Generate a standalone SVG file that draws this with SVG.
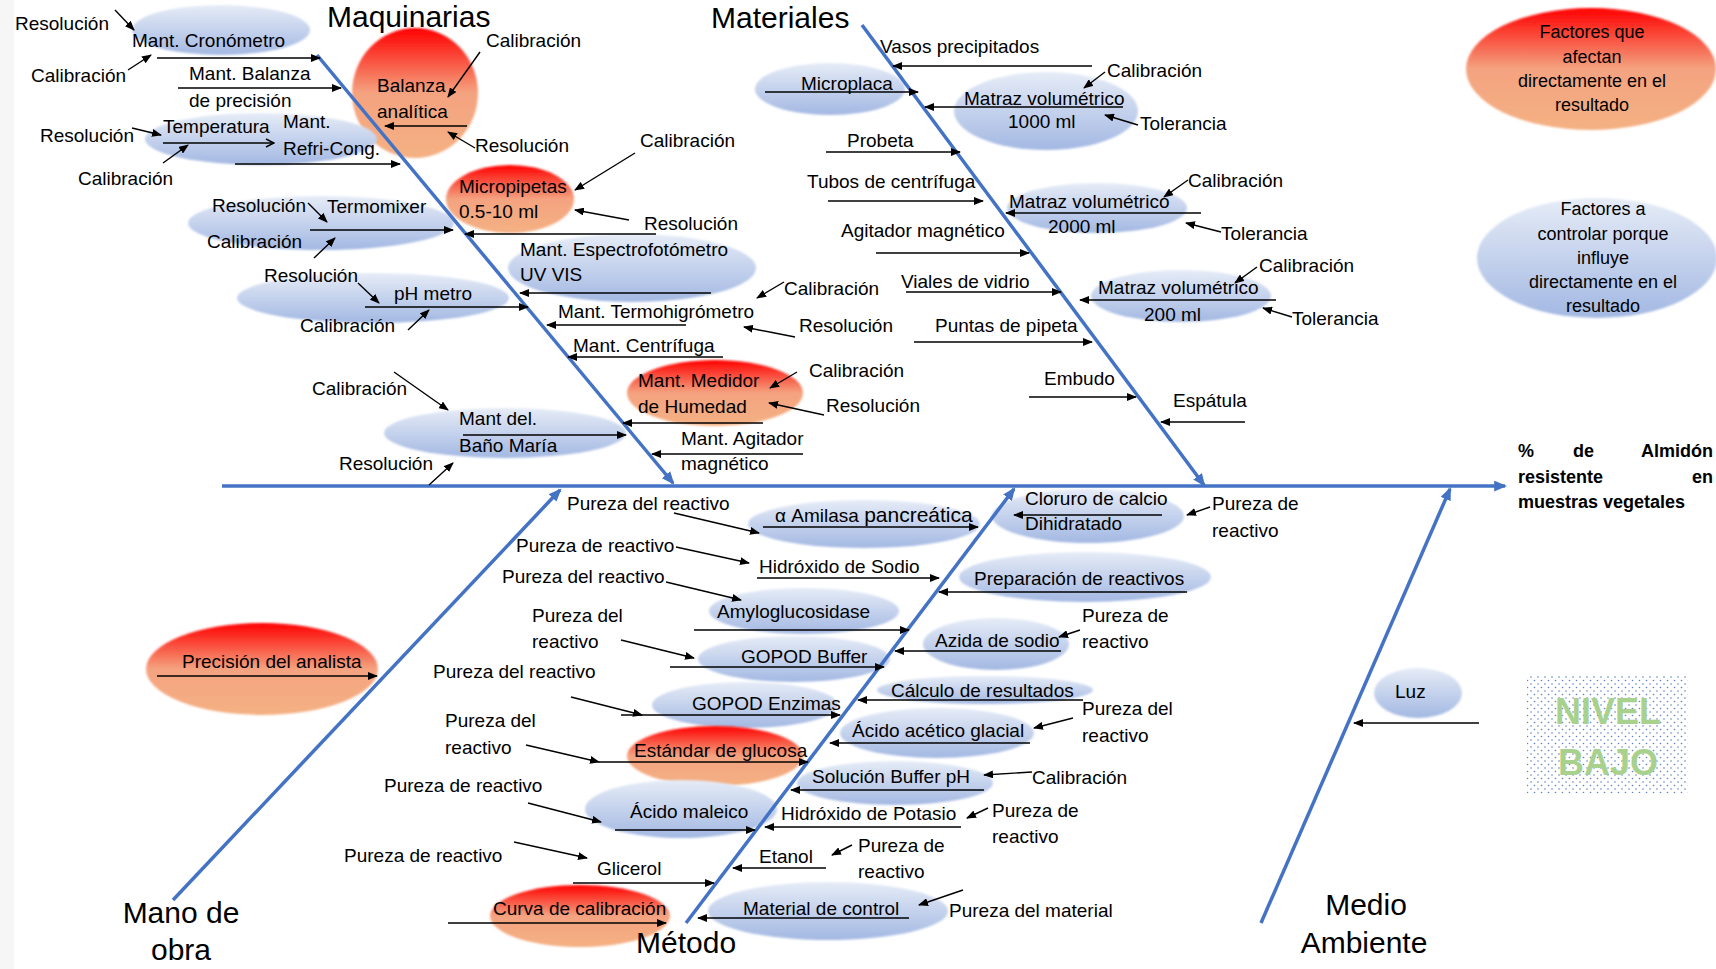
<svg xmlns="http://www.w3.org/2000/svg" width="1716" height="969" viewBox="0 0 1716 969">
<defs>
<linearGradient id="gBlue" x1="0" y1="0" x2="0" y2="1"><stop offset="0" stop-color="#E6ECF7"/><stop offset="1" stop-color="#A3B8E2"/></linearGradient>
<linearGradient id="gRed" x1="0" y1="0" x2="0" y2="1"><stop offset="0" stop-color="#FF0000"/><stop offset="0.5" stop-color="#F4A380"/><stop offset="1" stop-color="#F4B183"/></linearGradient>
<filter id="soft" x="-10%" y="-10%" width="120%" height="120%"><feGaussianBlur stdDeviation="1.3"/></filter>
<marker id="ah" viewBox="0 0 10 8" refX="9" refY="4" markerWidth="10" markerHeight="8" markerUnits="userSpaceOnUse" orient="auto"><path d="M0,0 L10,4 L0,8 z" fill="#000"/></marker>
<marker id="ao" viewBox="0 0 10 10" refX="9" refY="5" markerWidth="10" markerHeight="10" markerUnits="userSpaceOnUse" orient="auto"><path d="M1,1 L9,5 L1,9" fill="none" stroke="#000" stroke-width="1.4"/></marker>
<marker id="bh" viewBox="0 0 12 10" refX="10" refY="5" markerWidth="13" markerHeight="11" markerUnits="userSpaceOnUse" orient="auto"><path d="M0,0 L12,5 L0,10 z" fill="#4472C4"/></marker>
<pattern id="dots" width="7" height="7" patternUnits="userSpaceOnUse"><circle cx="1.5" cy="1.5" r="0.8" fill="#5B7FCB"/><circle cx="5" cy="5" r="0.8" fill="#5B7FCB"/></pattern>
</defs>
<style>
.t{font-family:"Liberation Sans",Arial,sans-serif;font-size:19px;fill:#000}
.big{font-family:"Liberation Sans",Arial,sans-serif;font-size:30px;fill:#000}
.bo{font-family:"Liberation Sans",Arial,sans-serif;font-size:18px;font-weight:bold;fill:#000}
.lg{font-family:"Liberation Sans",Arial,sans-serif;font-size:18px;fill:#000;text-anchor:middle}
.mid{text-anchor:middle}
.eb{fill:url(#gBlue);filter:url(#soft)}
.er{fill:url(#gRed);filter:url(#soft)}
.a{stroke:#000;stroke-width:1.4;fill:none;marker-end:url(#ah)}
.ao{stroke:#000;stroke-width:1.4;fill:none;marker-end:url(#ao)}
.bone{stroke:#4472C4;stroke-width:3.5;fill:none;marker-end:url(#bh)}
.nv{font-family:"Liberation Sans",Arial,sans-serif;font-size:36px;font-weight:bold;fill:#A9D18E;text-anchor:middle}
</style>
<rect x="0" y="0" width="1716" height="969" fill="#FFFFFF"/>
<rect x="0" y="0" width="14" height="969" fill="#F6F6F6"/>

<!-- ellipses / nodes -->
<g id="n-cronometro"><ellipse class="eb" cx="221" cy="30" rx="89" ry="25"/><text class="t" x="132" y="47">Mant. Cronómetro</text></g>
<g id="n-cron-res"><text class="t" x="15" y="30">Resolución</text></g>
<g id="n-cron-cal"><text class="t" x="31" y="82">Calibración</text></g>
<g id="n-balanza-prec"><text class="t" x="189" y="80">Mant. Balanza</text><text class="t" x="189" y="107">de precisión</text></g>
<g id="n-balanza-anal"><ellipse class="er" cx="415" cy="93" rx="63" ry="65"/><text class="t" x="377" y="92">Balanza</text><text class="t" x="377" y="118">analítica</text></g>
<g id="n-bal-cal"><text class="t" x="486" y="47">Calibración</text></g>
<g id="n-bal-res"><text class="t" x="475" y="152">Resolución</text></g>
<g id="n-refri"><ellipse class="eb" cx="261" cy="139" rx="116" ry="26"/><text class="t" x="163" y="133">Temperatura</text><text class="t" x="283" y="128">Mant.</text><text class="t" x="283" y="155">Refri-Cong.</text></g>
<g id="n-refri-res"><text class="t" x="40" y="142">Resolución</text></g>
<g id="n-refri-cal"><text class="t" x="78" y="185">Calibración</text></g>
<g id="n-micropip"><ellipse class="er" cx="510" cy="199" rx="64" ry="34"/><text class="t" x="459" y="193">Micropipetas</text><text class="t" x="459" y="218">0.5-10 ml</text></g>
<g id="n-micro-cal"><text class="t" x="640" y="147">Calibración</text></g>
<g id="n-micro-res"><text class="t" x="644" y="230">Resolución</text></g>
<g id="n-termomixer"><ellipse class="eb" cx="321" cy="223" rx="133" ry="27"/><text class="t" x="212" y="212">Resolución</text><text class="t" x="327" y="213">Termomixer</text><text class="t" x="207" y="248">Calibración</text></g>
<g id="n-phmetro"><ellipse class="eb" cx="373" cy="298" rx="136" ry="25"/><text class="t" x="264" y="282">Resolución</text><text class="t" x="394" y="300">pH metro</text><text class="t" x="300" y="332">Calibración</text></g>
<g id="n-espectro"><ellipse class="eb" cx="632" cy="268" rx="124" ry="34"/><text class="t" x="520" y="256">Mant. Espectrofotómetro</text><text class="t" x="520" y="281">UV VIS</text></g>
<g id="n-termo-cal"><text class="t" x="784" y="295">Calibración</text></g>
<g id="n-termohigro"><text class="t" x="558" y="318">Mant. Termohigrómetro</text></g>
<g id="n-termo-res"><text class="t" x="799" y="332">Resolución</text></g>
<g id="n-centrifuga"><text class="t" x="573" y="352">Mant. Centrífuga</text></g>
<g id="n-medidor"><ellipse class="er" cx="715" cy="393" rx="88" ry="33"/><text class="t" x="638" y="387">Mant. Medidor</text><text class="t" x="638" y="413">de Humedad</text></g>
<g id="n-med-cal"><text class="t" x="809" y="377">Calibración</text></g>
<g id="n-med-res"><text class="t" x="826" y="412">Resolución</text></g>
<g id="n-bano"><ellipse class="eb" cx="505" cy="433" rx="121" ry="25"/><text class="t" x="459" y="425">Mant del.</text><text class="t" x="459" y="452">Baño María</text></g>
<g id="n-bano-cal"><text class="t" x="312" y="395">Calibración</text></g>
<g id="n-bano-res"><text class="t" x="339" y="470">Resolución</text></g>
<g id="n-agitador-mant"><text class="t" x="681" y="445">Mant. Agitador</text><text class="t" x="681" y="470">magnético</text></g>
<g id="n-maquinarias"><text class="big" x="327" y="27">Maquinarias</text></g>

<g id="n-materiales"><text class="big" x="711" y="28">Materiales</text></g>
<g id="n-vasos"><text class="t" x="880" y="53">Vasos precipitados</text></g>
<g id="n-microplaca"><ellipse class="eb" cx="830" cy="89" rx="75" ry="26"/><text class="t" x="801" y="90">Microplaca</text></g>
<g id="n-matraz1000"><ellipse class="eb" cx="1046" cy="111" rx="92" ry="39"/><text class="t" x="964" y="105">Matraz volumétrico</text><text class="t" x="1008" y="128">1000 ml</text></g>
<g id="n-m1000-cal"><text class="t" x="1107" y="77">Calibración</text></g>
<g id="n-m1000-tol"><text class="t" x="1140" y="130">Tolerancia</text></g>
<g id="n-probeta"><text class="t" x="847" y="147">Probeta</text></g>
<g id="n-tubos"><text class="t" x="807" y="188">Tubos de centrífuga</text></g>
<g id="n-matraz2000"><ellipse class="eb" cx="1097" cy="208" rx="90" ry="25"/><text class="t" x="1009" y="208">Matraz volumétrico</text><text class="t" x="1048" y="233">2000 ml</text></g>
<g id="n-m2000-cal"><text class="t" x="1188" y="187">Calibración</text></g>
<g id="n-m2000-tol"><text class="t" x="1221" y="240">Tolerancia</text></g>
<g id="n-agitador"><text class="t" x="841" y="237">Agitador magnético</text></g>
<g id="n-viales"><text class="t" x="901" y="288">Viales de vidrio</text></g>
<g id="n-matraz200"><ellipse class="eb" cx="1181" cy="296" rx="90" ry="26"/><text class="t" x="1098" y="294">Matraz volumétrico</text><text class="t" x="1144" y="321">200 ml</text></g>
<g id="n-m200-cal"><text class="t" x="1259" y="272">Calibración</text></g>
<g id="n-m200-tol"><text class="t" x="1292" y="325">Tolerancia</text></g>
<g id="n-puntas"><text class="t" x="935" y="332">Puntas de pipeta</text></g>
<g id="n-embudo"><text class="t" x="1044" y="385">Embudo</text></g>
<g id="n-espatula"><text class="t" x="1173" y="407">Espátula</text></g>

<g id="n-efecto">
<text class="bo" x="1518" y="457">%</text><text class="bo" x="1573" y="457">de</text><text class="bo" x="1713" y="457" text-anchor="end">Almidón</text>
<text class="bo" x="1518" y="483">resistente</text><text class="bo" x="1713" y="483" text-anchor="end">en</text>
<text class="bo" x="1518" y="508">muestras vegetales</text>
</g>

<g id="n-leg-red"><ellipse class="er" cx="1591" cy="69" rx="125" ry="61"/>
<text class="lg" x="1592" y="38">Factores que</text><text class="lg" x="1592" y="63">afectan</text><text class="lg" x="1592" y="87">directamente en el</text><text class="lg" x="1592" y="111">resultado</text></g>
<g id="n-leg-blue"><ellipse class="eb" cx="1597" cy="258" rx="120" ry="60"/>
<text class="lg" x="1603" y="215">Factores a</text><text class="lg" x="1603" y="240">controlar porque</text><text class="lg" x="1603" y="264">influye</text><text class="lg" x="1603" y="288">directamente en el</text><text class="lg" x="1603" y="312">resultado</text></g>
<g id="n-nivel"><rect x="1527" y="676" width="161" height="117" fill="url(#dots)"/><text class="nv" x="1608" y="724">NIVEL</text><text class="nv" x="1608" y="775">BAJO</text></g>

<!-- Metodo -->
<g id="n-m-pur1"><text class="t" x="567" y="510">Pureza del reactivo</text></g>
<g id="n-amilasa"><ellipse class="eb" cx="864" cy="524" rx="116" ry="24"/><text class="t" x="775" y="522">α Amilasa <tspan font-size="21">pancreática</tspan></text></g>
<g id="n-m-pur2"><text class="t" x="516" y="552">Pureza de reactivo</text></g>
<g id="n-naoh"><text class="t" x="759" y="573">Hidróxido de Sodio</text></g>
<g id="n-m-pur3"><text class="t" x="502" y="583">Pureza del reactivo</text></g>
<g id="n-amylo"><ellipse class="eb" cx="804" cy="611" rx="95" ry="23"/><text class="t" x="717" y="618">Amyloglucosidase</text></g>
<g id="n-m-pur4"><text class="t" x="532" y="622">Pureza del</text><text class="t" x="532" y="648">reactivo</text></g>
<g id="n-gopodb"><ellipse class="eb" cx="794" cy="659" rx="96" ry="23"/><text class="t" x="741" y="663">GOPOD Buffer</text></g>
<g id="n-m-pur5"><text class="t" x="433" y="678">Pureza del reactivo</text></g>
<g id="n-gopode"><ellipse class="eb" cx="745" cy="705" rx="93" ry="23"/><text class="t" x="692" y="710">GOPOD Enzimas</text></g>
<g id="n-m-pur6"><text class="t" x="445" y="727">Pureza del</text><text class="t" x="445" y="754">reactivo</text></g>
<g id="n-estandar"><ellipse class="er" cx="715" cy="756" rx="88" ry="30"/><text class="t" x="634" y="757">Estándar de glucosa</text></g>
<g id="n-m-pur7"><text class="t" x="384" y="792">Pureza de reactivo</text></g>
<g id="n-maleico"><ellipse class="eb" cx="681" cy="809" rx="96" ry="29"/><text class="t" x="630" y="818">Ácido maleico</text></g>
<g id="n-m-pur8"><text class="t" x="344" y="862">Pureza de reactivo</text></g>
<g id="n-glicerol"><text class="t" x="597" y="875">Glicerol</text></g>
<g id="n-curva"><ellipse class="er" cx="580" cy="916" rx="90" ry="31"/><text class="t" x="493" y="915">Curva de calibración</text></g>
<g id="n-metodo"><text class="big" x="636" y="953">Método</text></g>

<g id="n-cloruro"><ellipse class="eb" cx="1088" cy="516" rx="96" ry="27"/><text class="t" x="1025" y="505">Cloruro de calcio</text><text class="t" x="1025" y="530">Dihidratado</text></g>
<g id="n-clo-pur"><text class="t" x="1212" y="510">Pureza de</text><text class="t" x="1212" y="537">reactivo</text></g>
<g id="n-prep"><ellipse class="eb" cx="1085" cy="577" rx="126" ry="25"/><text class="t" x="974" y="585">Preparación de reactivos</text></g>
<g id="n-azida"><ellipse class="eb" cx="996" cy="644" rx="73" ry="26"/><text class="t" x="935" y="647">Azida de sodio</text></g>
<g id="n-azi-pur"><text class="t" x="1082" y="622">Pureza de</text><text class="t" x="1082" y="648">reactivo</text></g>
<g id="n-calculo"><ellipse class="eb" cx="985" cy="690" rx="108" ry="14"/><text class="t" x="891" y="697">Cálculo de resultados</text></g>
<g id="n-acetico"><ellipse class="eb" cx="937" cy="733" rx="97" ry="25"/><text class="t" x="852" y="737">Ácido acético glacial</text></g>
<g id="n-ace-pur"><text class="t" x="1082" y="715">Pureza del</text><text class="t" x="1082" y="742">reactivo</text></g>
<g id="n-buffer"><ellipse class="eb" cx="895" cy="783" rx="98" ry="22"/><text class="t" x="812" y="783">Solución Buffer pH</text></g>
<g id="n-buf-cal"><text class="t" x="1032" y="784">Calibración</text></g>
<g id="n-koh"><text class="t" x="781" y="820">Hidróxido de Potasio</text></g>
<g id="n-koh-pur"><text class="t" x="992" y="817">Pureza de</text><text class="t" x="992" y="843">reactivo</text></g>
<g id="n-etanol"><text class="t" x="759" y="863">Etanol</text></g>
<g id="n-eta-pur"><text class="t" x="858" y="852">Pureza de</text><text class="t" x="858" y="878">reactivo</text></g>
<g id="n-material"><ellipse class="eb" cx="828" cy="911" rx="120" ry="29"/><text class="t" x="743" y="915">Material de control</text></g>
<g id="n-mat-pur"><text class="t" x="949" y="917">Pureza del material</text></g>

<g id="n-precision"><ellipse class="er" cx="262" cy="669" rx="116" ry="46"/><text class="t" x="182" y="668">Precisión del analista</text></g>
<g id="n-mano"><text class="big mid" x="181" y="923">Mano de</text><text class="big mid" x="181" y="960">obra</text></g>
<g id="n-luz"><ellipse class="eb" cx="1418" cy="693" rx="44" ry="25"/><text class="t" x="1395" y="698">Luz</text></g>
<g id="n-medio"><text class="big mid" x="1366" y="915">Medio</text><text class="big mid" x="1364" y="953">Ambiente</text></g>

<g id="connectors">
<path class="bone" d="M222,486 L1505,486"/>
<path class="bone" d="M317,55 L673,483"/>
<path class="bone" d="M862,25 L1204,485"/>
<path class="bone" d="M173,900 L560,490"/>
<path class="bone" d="M686,923 L1014,489"/>
<path class="bone" d="M1261,923 L1450,489"/>

<path class="a" d="M115,10 L134,30"/>
<path class="a" d="M157,58 L320,58"/>
<path class="a" d="M128,70 L151,55"/>
<path class="a" d="M178,88 L341,88"/>
<path class="a" d="M480,52 L448,97"/>
<path class="a" d="M467,126 L385,126"/>
<path class="a" d="M475,148 L448,132"/>
<path class="a" d="M132,128 L161,135"/>
<path class="ao" d="M163,143 L274,143"/>
<path class="a" d="M163,163 L188,145"/>
<path class="a" d="M235,164 L400,164"/>
<path class="a" d="M635,153 L575,190"/>
<path class="a" d="M629,220 L575,210"/>
<path class="a" d="M656,234 L465,234"/>
<path class="a" d="M308,203 L327,222"/>
<path class="a" d="M310,230 L453,230"/>
<path class="a" d="M314,258 L335,238"/>
<path class="a" d="M358,283 L379,303"/>
<path class="a" d="M365,307 L528,307"/>
<path class="a" d="M408,330 L429,310"/>
<path class="a" d="M711,293 L520,293"/>
<path class="a" d="M784,282 L757,298"/>
<path class="a" d="M686,325 L547,325"/>
<path class="a" d="M795,337 L744,327"/>
<path class="a" d="M723,357 L568,357"/>
<path class="a" d="M797,372 L770,388"/>
<path class="a" d="M824,415 L769,403"/>
<path class="a" d="M763,423 L623,423"/>
<path class="a" d="M803,454 L652,454"/>
<path class="a" d="M394,372 L448,410"/>
<path class="a" d="M463,435 L626,435"/>
<path class="a" d="M429,485 L453,463"/>

<path class="a" d="M1092,66 L893,66"/>
<path class="a" d="M765,92 L918,92"/>
<path class="a" d="M1123,107 L925,107"/>
<path class="a" d="M1105,72 L1084,88"/>
<path class="a" d="M1138,125 L1105,115"/>
<path class="a" d="M826,152 L960,152"/>
<path class="a" d="M828,201 L983,201"/>
<path class="a" d="M1201,213 L1006,213"/>
<path class="a" d="M1188,180 L1164,197"/>
<path class="a" d="M1221,232 L1186,223"/>
<path class="a" d="M876,253 L1029,253"/>
<path class="a" d="M906,292 L1061,292"/>
<path class="a" d="M1276,300 L1080,300"/>
<path class="a" d="M1257,267 L1235,283"/>
<path class="a" d="M1292,317 L1263,308"/>
<path class="a" d="M914,342 L1092,342"/>
<path class="a" d="M1029,397 L1136,397"/>
<path class="a" d="M1245,422 L1161,422"/>

<path class="a" d="M674,513 L759,533"/>
<path class="a" d="M763,527 L978,527"/>
<path class="a" d="M676,547 L749,563"/>
<path class="a" d="M757,578 L939,578"/>
<path class="a" d="M666,582 L741,600"/>
<path class="a" d="M694,630 L909,630"/>
<path class="a" d="M621,640 L694,658"/>
<path class="a" d="M670,667 L884,667"/>
<path class="a" d="M571,697 L642,715"/>
<path class="a" d="M621,715 L840,715"/>
<path class="a" d="M526,745 L599,762"/>
<path class="a" d="M599,762 L808,762"/>
<path class="a" d="M528,803 L601,822"/>
<path class="a" d="M615,830 L755,830"/>
<path class="a" d="M514,842 L587,858"/>
<path class="a" d="M573,883 L714,883"/>
<path class="a" d="M448,923 L666,923"/>
<path class="a" d="M1162,515 L1014,515"/>
<path class="a" d="M1210,507 L1187,515"/>
<path class="a" d="M1187,592 L939,592"/>
<path class="a" d="M1061,651 L895,651"/>
<path class="a" d="M1080,630 L1059,637"/>
<path class="a" d="M1083,700 L858,700"/>
<path class="a" d="M1073,718 L1034,728"/>
<path class="a" d="M1030,743 L830,743"/>
<path class="a" d="M984,790 L791,790"/>
<path class="a" d="M1032,772 L984,775"/>
<path class="a" d="M961,827 L765,827"/>
<path class="a" d="M988,808 L967,818"/>
<path class="a" d="M826,868 L733,868"/>
<path class="a" d="M852,845 L832,855"/>
<path class="a" d="M909,918 L698,918"/>
<path class="a" d="M963,890 L919,905"/>
<path class="a" d="M157,676 L377,676"/>
<path class="a" d="M1479,723 L1354,723"/>
</g>
</svg>
